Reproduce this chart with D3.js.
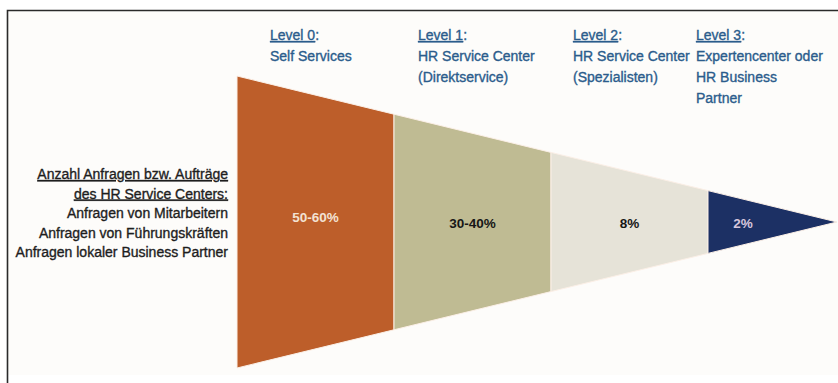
<!DOCTYPE html>
<html>
<head>
<meta charset="utf-8">
<script src="https://cdn.jsdelivr.net/npm/d3@7"></script>
<style>
  body { margin: 0; background: #ffffff; }
  text { font-family: "Liberation Sans", Arial, sans-serif; }
</style>
</head>
<body>
<div id="chart"></div>
<script>
// The data
var levels = ['Level 0', 'Level 1', 'Level 2', 'Level 3'];
var levelNames = [
  ['Self Services'],
  ['HR Service Center', '(Direktservice)'],
  ['HR Service Center', '(Spezialisten)'],
  ['Expertencenter oder', 'HR Business', 'Partner']
];
var shares = ['50-60%', '30-40%', '8%', '2%'];
var colors = ['#bd5e2a', '#bfbb93', '#e6e3d8', '#1c3064'];
var labelColors = ['#f3e2d3', '#161616', '#161616', '#d7c6dc'];
var sideTitle = ['Anzahl Anfragen bzw. Aufträge', 'des HR Service Centers:'];
var sideLines = ['Anfragen von Mitarbeitern', 'Anfragen von Führungskräften', 'Anfragen lokaler Business Partner'];

// Dimensions
var width = 838, height = 383;
var midY = 222;

var svg = d3.select('#chart').append('svg')
    .attr('width', width)
    .attr('height', height);

// paper + frame
svg.append('rect')
    .attr('x', 7).attr('y', 10)
    .attr('width', width).attr('height', 365)
    .style('fill', '#fdfcfa');
svg.append('path')
    .attr('d', 'M7.5,' + height + 'V10.5H' + width)
    .style('fill', 'none')
    .style('stroke', '#2a2a2a')
    .style('stroke-width', 1.6);

// stage scale: stage index -> x, cone closes at the tip
var x = d3.scaleLinear().domain([0, 1]).range([237, 394]);
var tipX = 837;
var half = d3.scaleLinear().domain([x(0), tipX]).range([146, 0]);

var segs = levels.map(function(d, i) {
  return { i: i, x0: x(i), x1: Math.min(x(i + 1), tipX) };
});

svg.selectAll('path.seg')
    .data(segs)
    .enter()
  .append('path')
    .attr('class', 'seg')
    .attr('d', function(d) {
      var a = half(d.x0), b = half(d.x1);
      return 'M' + d.x0 + ',' + (midY - a) + 'L' + d.x1 + ',' + (midY - b) +
             'L' + d.x1 + ',' + (midY + b) + 'L' + d.x0 + ',' + (midY + a) + 'Z';
    })
    .style('fill', function(d) { return colors[d.i]; })
    .style('stroke', '#fbefe6')
    .style('stroke-width', 1);

// share labels inside the funnel
svg.selectAll('text.share')
    .data(segs)
    .enter()
  .append('text')
    .attr('class', 'share')
    .attr('x', function(d) { return d.i < 3 ? (d.x0 + d.x1) / 2 : d.x0 + 35; })
    .attr('y', function(d) { return d.i === 0 ? 222 : 228; })
    .attr('text-anchor', 'middle')
    .style('font-size', '13.5px')
    .style('font-weight', 'bold')
    .style('fill', function(d) { return labelColors[d.i]; })
    .text(function(d) { return shares[d.i]; });

// level headers
var headX = [270, 418, 573, 696];
var head = svg.selectAll('g.head')
    .data(levels)
    .enter()
  .append('g')
    .attr('class', 'head')
    .attr('transform', function(d, i) { return 'translate(' + headX[i] + ',40)'; })
    .style('font-size', '14px')
    .style('fill', '#2b5c8c')
    .style('stroke', '#2b5c8c')
    .style('stroke-width', 0.35);

var first = head.append('text');
first.append('tspan')
    .style('text-decoration', 'underline')
    .text(function(d) { return d; });
first.append('tspan').text(':');

head.each(function(d, i) {
  d3.select(this).selectAll('text.name')
      .data(levelNames[i])
      .enter()
    .append('text')
      .attr('class', 'name')
      .attr('y', function(n, j) { return (j + 1) * 21; })
      .text(function(n) { return n; });
});

// left description
svg.selectAll('text.side')
    .data(sideTitle.concat(sideLines))
    .enter()
  .append('text')
    .attr('class', 'side')
    .attr('x', 228)
    .attr('y', function(d, i) { return 179 + i * 19.5; })
    .attr('text-anchor', 'end')
    .style('font-size', '14px')
    .style('fill', '#1e1e1e')
    .style('stroke', '#1e1e1e')
    .style('stroke-width', 0.35)
    .style('text-decoration', function(d, i) { return i < 2 ? 'underline' : 'none'; })
    .text(function(d) { return d; });
</script>
</body>
</html>
